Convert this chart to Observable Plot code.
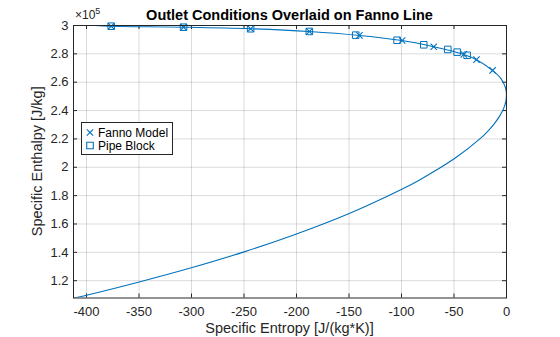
<!DOCTYPE html>
<html><head><meta charset="utf-8">
<script src="https://cdn.jsdelivr.net/npm/d3@7"></script>
<script src="https://cdn.jsdelivr.net/npm/@observablehq/plot@0.6"></script>
<style>
html,body{margin:0;padding:0;background:#fff;}
#chart{width:560px;height:337px;}
</style></head><body><div id="chart"></div>
<script>
// Fanno line: specific entropy [J/(kg*K)] and specific enthalpy [x1e5 J/kg]
const lineS = [-392, -376.5, -307.6, -243.7, -187.8, -140.1, -99.4, -69.3, -40.7, -28.6, -13.3, -5.3, -1.2, 0, -1.6, -6.1, -12.1, -17.0, -25.4, -48.8, -83.2, -100.2, -149.8, -202, -249.2, -300.2, -348.9, -400, -412.4];
const lineH = [3.000, 2.995, 2.988, 2.977, 2.958, 2.930, 2.894, 2.850, 2.796, 2.759, 2.683, 2.625, 2.566, 2.508, 2.437, 2.366, 2.303, 2.261, 2.200, 2.065, 1.909, 1.843, 1.674, 1.524, 1.405, 1.291, 1.193, 1.098, 1.078];
// Fanno Model outlet conditions
const modelS = [-376.5, -307.6, -243.7, -187.8, -140.1, -99.4, -69.3, -40.7, -28.6, -13.3];
const modelH = [2.995, 2.988, 2.977, 2.958, 2.930, 2.894, 2.850, 2.796, 2.759, 2.683];
// Pipe Block outlet conditions
const pipeS = [-376.5, -307.6, -243.7, -187.8, -143.6, -104.2, -78.8, -55.9, -47.0, -37.5];
const pipeH = [2.995, 2.988, 2.977, 2.958, 2.932, 2.896, 2.864, 2.831, 2.812, 2.790];
// Axes
const xTicks = [-400, -350, -300, -250, -200, -150, -100, -50, 0];
const yTicks = [1.2, 1.4, 1.6, 1.8, 2, 2.2, 2.4, 2.6, 2.8, 3];
const xDomain = [-412.4, 0];
const yDomain = [1.078, 3.0];
const titleText = "Outlet Conditions Overlaid on Fanno Line";
const xLabel = "Specific Entropy [J/(kg*K)]";
const yLabel = "Specific Enthalpy [J/kg]";
const legendLabels = ["Fanno Model", "Pipe Block"];

const W = 560, H = 337, mL = 73, mR = 54, mT = 25, mB = 39.5;
const frameW = W - mL - mR, frameH = H - mT - mB;
const tickLen = 4;
const blue = "#0072BD", ink = "#262626";
const font = "'Liberation Sans', Arial, Helvetica, sans-serif";

const line = lineS.map((s, i) => ({s, h: lineH[i]}));
const model = modelS.map((s, i) => ({s, h: modelH[i]}));
const pipe = pipeS.map((s, i) => ({s, h: pipeH[i]}));

const plot = Plot.plot({
  width: W, height: H,
  marginLeft: mL, marginRight: mR, marginTop: mT, marginBottom: mB,
  style: {fontFamily: font, fontSize: "13px", color: ink, background: "#fff", overflow: "visible"},
  x: {domain: xDomain},
  y: {domain: yDomain},
  marks: [
    Plot.gridX(xTicks, {stroke: "#000", strokeOpacity: 0.14, strokeWidth: 1}),
    Plot.gridY(yTicks, {stroke: "#000", strokeOpacity: 0.14, strokeWidth: 1}),
    Plot.ruleX(xTicks, {x: d => d, insetTop: frameH - tickLen, stroke: ink}),
    Plot.ruleX(xTicks, {x: d => d, insetBottom: frameH - tickLen, stroke: ink}),
    Plot.ruleY(yTicks, {y: d => d, insetRight: frameW - tickLen, stroke: ink}),
    Plot.ruleY(yTicks, {y: d => d, insetLeft: frameW - tickLen, stroke: ink}),
    Plot.line(line, {x: "s", y: "h", stroke: blue, strokeWidth: 1.1, curve: "catmull-rom", clip: true}),
    Plot.dot(model, {x: "s", y: "h", symbol: "times", r: 3, stroke: blue, strokeWidth: 1.1}),
    Plot.dot(pipe, {x: "s", y: "h", symbol: "square", r: 3.7, stroke: blue, fill: "none", strokeWidth: 1}),
    Plot.frame({stroke: ink, strokeWidth: 1}),
    Plot.axisX(xTicks, {tickSize: 0, tickPadding: 9, tickFormat: d => String(d), label: null, fontSize: 13, fill: ink}),
    Plot.axisY(yTicks, {tickSize: 0, tickPadding: 5, tickFormat: d => String(d), label: null, fontSize: 13, fill: ink})
  ]
});
document.getElementById("chart").appendChild(plot);

const svg = d3.select(plot);
const cx = mL + frameW / 2, cy = mT + frameH / 2;
svg.append("text").attr("x", cx).attr("y", 19.5).attr("text-anchor", "middle")
  .attr("font-family", font).attr("font-size", 14.5).attr("font-weight", "bold").attr("fill", "#000").text(titleText);
const exp = svg.append("text").attr("x", 75).attr("y", 18.5).attr("text-anchor", "start")
  .attr("font-family", font).attr("font-size", 12).attr("fill", ink);
exp.append("tspan").text("×10");
exp.append("tspan").attr("dy", -5).attr("font-size", 9).text("5");
svg.append("text").attr("x", cx).attr("y", 333).attr("text-anchor", "middle")
  .attr("font-family", font).attr("font-size", 14.5).attr("fill", ink).text(xLabel);
svg.append("text").attr("transform", `translate(41.5,${cy}) rotate(-90)`).attr("text-anchor", "middle")
  .attr("font-family", font).attr("font-size", 14.5).attr("fill", ink).text(yLabel);

// Legend
const lg = svg.append("g");
lg.append("rect").attr("x", 81.5).attr("y", 122.5).attr("width", 91).attr("height", 32)
  .attr("fill", "#fff").attr("stroke", ink).attr("stroke-width", 1);
const rows = [{sym: d3.symbolTimes, size: Math.PI * 9, label: legendLabels[0], y: 132.5},
              {sym: d3.symbolSquare, size: Math.PI * 3.7 * 3.7, label: legendLabels[1], y: 145.5}];
rows.forEach(r => {
  lg.append("path").attr("d", d3.symbol(r.sym, r.size)()).attr("transform", `translate(90,${r.y})`)
    .attr("fill", "none").attr("stroke", blue).attr("stroke-width", 1.1);
  lg.append("text").attr("x", 98).attr("y", r.y + 4.3).attr("text-anchor", "start")
    .attr("font-family", font).attr("font-size", 12).attr("fill", "#000").text(r.label);
});
</script></body></html>
